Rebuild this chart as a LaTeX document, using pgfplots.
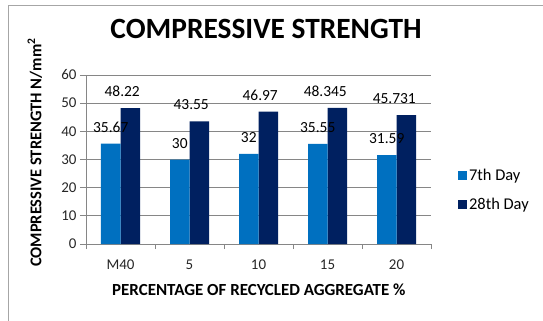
\documentclass[border=0pt]{standalone}
\usepackage{pgfplots}
\pgfplotsset{compat=1.18}
\usepackage{fontspec}
\setmainfont{Carlito}
\definecolor{day7}{HTML}{0070C0}
\definecolor{day28}{HTML}{002060}
\definecolor{gridgray}{HTML}{868686}
\definecolor{framegray}{HTML}{A6A6A6}
\begin{document}
\begin{tikzpicture}
\useasboundingbox (0,0) rectangle (543bp,321bp);
\begin{axis}[
  at={(86bp,77bp)}, anchor=south west,
  scale only axis, width=345bp, height=169bp,
  ybar=0pt, bar width=19.5bp,
  xmin=-0.5, xmax=4.5, ymin=0, ymax=60,
  axis x line*=bottom, axis y line*=left,
  axis line style={gridgray, line width=0.8pt},
  xtick={0,1,2,3,4}, xticklabels={M40,5,10,15,20},
  xtick style={draw=none},
  minor xtick={-0.5,0.5,1.5,2.5,3.5,4.5},
  minor x tick style={draw=gridgray, line width=0.8pt},
  minor tick length=5bp,
  ytick={0,10,20,30,40,50,60},
  ytick style={draw=gridgray, line width=0.8pt},
  major tick length=6bp,
  tick align=outside,
  ymajorgrids, grid style={gridgray, line width=0.8pt},
  /pgf/number format/assume math mode=true,
  ticklabel style={font=\fontsize{15}{17}\selectfont, text=black!85},
  xticklabel style={yshift=-6bp},
  title={\textbf{COMPRESSIVE STRENGTH}},
  title style={font=\fontsize{29.5}{33}\selectfont, at={(rel axis cs:0.522,1.237)}, anchor=center},
  xlabel={\textbf{PERCENTAGE OF RECYCLED AGGREGATE \%}},
  xlabel style={font=\fontsize{17}{19}\selectfont, at={(rel axis cs:0.501,-0.272)}, anchor=center},
  ylabel={\textbf{COMPRESSIVE STRENGTH N/mm\textsuperscript{2}}},
  ylabel style={font=\fontsize{16.5}{19}\selectfont, at={(rel axis cs:-0.148,0.541)}, anchor=center},
  legend style={at={(rel axis cs:1.078,0.455)}, anchor=north west, draw=none, fill=none,
    font=\fontsize{16.5}{19}\selectfont, row sep=12bp, inner sep=0pt,
    /tikz/every even column/.append style={column sep=1bp}},
  legend cell align=left,
  legend image code/.code={\fill[#1] (0bp,-4.5bp) rectangle (9bp,4.5bp);},
  reverse legend,
  nodes near coords,
  every node near coord/.append style={font=\fontsize{15.5}{18}\selectfont, text=black},
  clip=false,
]
\addplot[fill=day28, draw=none, bar shift=9.75bp,
  every node near coord/.append style={anchor=base east, xshift=9.75bp, yshift=11.5bp, inner xsep=0pt},
  point meta=explicit symbolic]
  coordinates {(0,48.22)[48.22] (1,43.55)[43.55] (2,46.97)[46.97] (3,48.345)[48.345] (4,45.731)[45.731]};
\addlegendentry{28th Day}
\addplot[fill=day7, draw=none, bar shift=-9.75bp,
  every node near coord/.append style={anchor=base, yshift=11.5bp},
  point meta=explicit symbolic]
  coordinates {(0,35.67)[35.67] (1,30)[30] (2,32)[32] (3,35.55)[35.55] (4,31.59)[31.59]};
\addlegendentry{7th Day}
\end{axis}
\draw[framegray, line width=0.8pt] (8bp,0bp) -- (8bp,316bp) -- (543bp,316bp);
\end{tikzpicture}
\end{document}
